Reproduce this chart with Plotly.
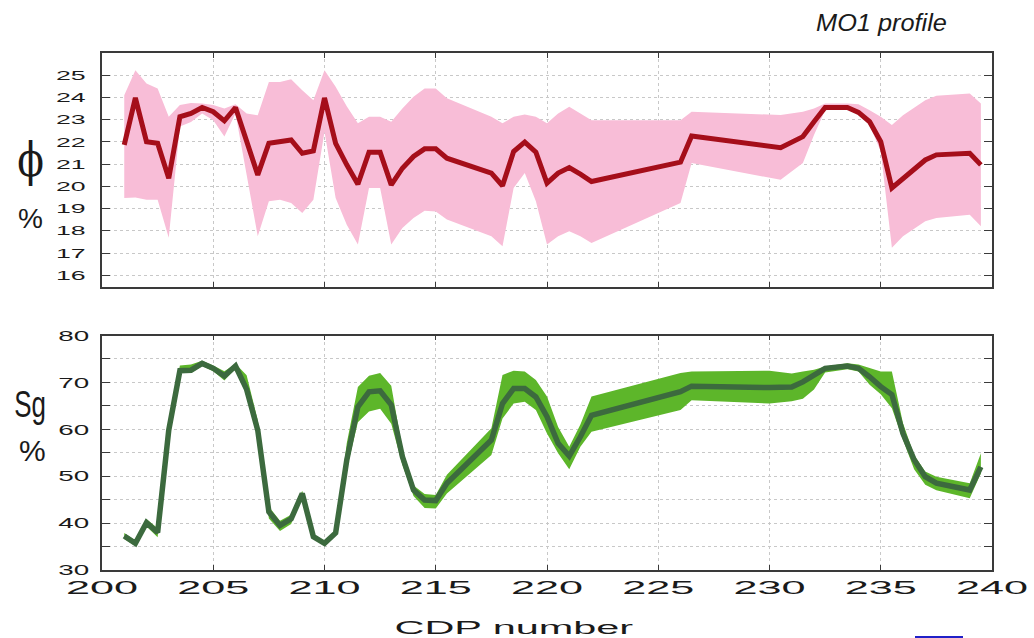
import plotly.graph_objects as go

# ---- porosity (phi) profile: mean and uncertainty envelope ----
cdp_phi = [201.0, 201.5, 202.0, 202.5, 203.0, 203.5, 204.0, 204.5, 205.0, 205.5,
           206.0, 206.5, 207.0, 207.5, 208.0, 208.5, 209.0, 209.5, 210.0, 210.5,
           211.0, 211.5, 212.0, 212.5, 213.0, 213.5, 214.0, 214.5, 215.0, 215.5,
           217.5, 218.0, 218.5, 219.0, 219.5, 220.0, 220.5, 221.0, 221.5, 222.0,
           226.0, 226.5, 230.5, 231.5, 232.0, 232.5, 233.5, 234.0, 234.5, 235.0,
           235.5, 236.0, 237.0, 237.5, 239.0, 239.5]
phi_mean = [21.87, 23.98, 22.01, 21.94, 20.37, 23.13, 23.28, 23.55, 23.36, 22.95,
            23.55, 22.05, 20.52, 21.94, 22.02, 22.09, 21.49, 21.60, 23.98, 21.94,
            20.97, 20.10, 21.54, 21.54, 20.07, 20.82, 21.35, 21.69, 21.69, 21.27,
            20.60, 20.03, 21.57, 21.99, 21.54, 20.15, 20.60, 20.85, 20.55, 20.22,
            21.09, 22.27, 21.74, 22.24, 22.91, 23.55, 23.55, 23.33, 22.91, 22.01,
            19.93, 20.37, 21.19, 21.42, 21.49, 20.97]
phi_hi = [24.10, 25.22, 24.63, 24.40, 23.13, 23.66, 23.75, 23.73, 23.66, 23.50,
          23.70, 23.28, 23.20, 24.70, 24.70, 24.82, 24.33, 23.88, 25.22, 24.48,
          23.60, 22.84, 23.13, 23.13, 22.91, 23.50, 24.03, 24.40, 24.40, 23.96,
          23.13, 22.84, 23.13, 23.24, 23.13, 22.84, 23.28, 23.58, 23.28, 22.98,
          22.98, 23.36, 23.21, 23.36, 23.50, 23.73, 23.73, 23.70, 23.43, 23.13,
          22.76, 23.20, 23.88, 24.08, 24.18, 23.73]
phi_lo = [19.48, 19.50, 19.40, 19.40, 17.69, 22.69, 22.90, 23.28, 22.98, 22.24,
          23.28, 20.52, 17.76, 19.33, 19.40, 19.25, 18.81, 19.40, 22.46, 19.48,
          18.28, 17.39, 19.93, 19.93, 17.39, 18.13, 18.58, 18.91, 18.87, 18.51,
          17.76, 17.31, 19.93, 20.60, 19.33, 17.39, 17.76, 17.98, 17.76, 17.46,
          19.25, 21.05, 20.30, 21.05, 22.31, 23.43, 23.50, 23.28, 22.76, 21.57,
          17.24, 17.76, 18.43, 18.58, 18.73, 18.21]

# ---- gas saturation (Sg) profile: mean and uncertainty envelope ----
cdp_sg = [201.0, 201.5, 202.0, 202.5, 203.0, 203.5, 204.0, 204.5, 205.0, 205.5,
          206.0, 206.5, 207.0, 207.5, 208.0, 208.5, 209.0, 209.5, 210.0, 210.5,
          211.0, 211.5, 212.0, 212.5, 213.0, 213.5, 214.0, 214.5, 215.0, 215.5,
          217.5, 218.0, 218.5, 219.0, 219.5, 220.0, 220.5, 221.0, 221.5, 222.0,
          226.0, 226.5, 230.0, 231.0, 231.5, 232.0, 232.5, 233.5, 234.0, 234.5,
          235.0, 235.5, 236.0, 236.5, 237.0, 237.5, 239.0, 239.5]
sg_mean = [37.25, 35.7, 40.1, 38.0, 59.8, 72.5, 72.6, 74.05, 73.0, 71.35,
           73.5, 68.5, 59.8, 42.4, 39.5, 40.9, 46.3, 37.1, 35.7, 37.9,
           53.4, 64.8, 68.0, 68.2, 65.2, 54.2, 47.05, 44.9, 44.8, 48.5,
           57.7, 65.5, 68.7, 68.7, 66.9, 62.7, 57.0, 54.3, 58.4, 63.0,
           68.0, 69.2, 68.9, 69.0, 70.1, 71.6, 73.0, 73.5, 73.0, 71.2,
           69.1, 67.4, 59.1, 53.5, 49.9, 48.5, 47.05, 52.0]
sg_hi = [37.9, 36.3, 40.9, 38.9, 60.6, 73.6, 73.8, 74.6, 73.6, 72.4,
         74.0, 71.5, 62.0, 43.5, 40.5, 41.8, 46.9, 37.6, 36.2, 38.4,
         57.0, 69.0, 71.4, 72.0, 69.3, 55.8, 48.0, 46.2, 46.0, 50.3,
         60.2, 71.6, 72.5, 72.3, 70.5, 67.0, 60.5, 56.3, 61.0, 67.0,
         72.0, 72.3, 72.5, 71.9, 72.3, 72.7, 73.4, 74.1, 73.8, 73.0,
         72.3, 72.3, 61.3, 54.5, 51.0, 49.9, 48.5, 54.9]
sg_lo = [36.6, 35.1, 39.3, 37.0, 59.0, 72.0, 72.0, 73.5, 72.4, 70.4,
         72.9, 67.6, 59.0, 41.0, 38.3, 39.8, 45.6, 36.6, 35.2, 37.4,
         51.5, 61.5, 63.8, 64.4, 61.2, 52.4, 45.8, 43.2, 43.1, 46.3,
         54.5, 62.3, 65.5, 65.9, 64.1, 59.1, 54.9, 51.5, 56.3, 59.5,
         64.1, 66.2, 65.5, 66.0, 66.5, 68.5, 72.1, 72.8, 72.3, 69.5,
         67.5, 64.5, 57.7, 51.5, 48.2, 47.0, 45.3, 50.6]

# ---- axis ticks ----
cdp_ticks = [200, 205, 210, 215, 220, 225, 230, 235, 240]
phi_ticks = [16, 17, 18, 19, 20, 21, 22, 23, 24, 25]
sg_ticks = [30, 35, 40, 45, 50, 55, 60, 65, 70, 75, 80]
sg_tick_text = ["30", "", "40", "", "50", "", "60", "", "70", "", "80"]

W, H = 1034, 638
PINK, RED = "#f8bdd7", "#a50e1a"
LGREEN, DGREEN = "#5db62a", "#3c6a3e"
FONT = "Liberation Sans, Arial, sans-serif"


def band(x, lo, hi, color, xa, ya):
    return go.Scatter(x=list(x) + list(x)[::-1], y=list(hi) + list(lo)[::-1],
                      fill="toself", fillcolor=color, mode="lines",
                      line=dict(width=0, color=color), hoverinfo="skip",
                      xaxis=xa, yaxis=ya, showlegend=False)


fig = go.Figure()
fig.add_trace(band(cdp_phi, phi_lo, phi_hi, PINK, "x2", "y2"))
fig.add_trace(go.Scatter(x=cdp_phi, y=phi_mean, mode="lines",
                         line=dict(color=RED, width=5),
                         xaxis="x2", yaxis="y2", showlegend=False))
fig.add_trace(band(cdp_sg, sg_lo, sg_hi, LGREEN, "x", "y"))
fig.add_trace(go.Scatter(x=cdp_sg, y=sg_mean, mode="lines",
                         line=dict(color=DGREEN, width=5.5),
                         xaxis="x", yaxis="y", showlegend=False))

x_dom = [102 / W, 992 / W]
top_dom = [1 - 286.5 / H, 1 - 53 / H]
bot_dom = [1 - 570 / H, 1 - 335.5 / H]

frame = dict(showline=True, linecolor="#3a3a3a", linewidth=1.6, mirror="ticks",
             ticks="inside", tickcolor="#3a3a3a", tickwidth=1.2,
             showgrid=True, gridcolor="#c8c8c8", gridwidth=1, griddash="dot",
             zeroline=False, automargin=False)

fig.update_layout(
    width=W, height=H,
    margin=dict(l=0, r=0, t=0, b=0, autoexpand=False),
    paper_bgcolor="white", plot_bgcolor="white",
    showlegend=False,
    xaxis=dict(domain=x_dom, anchor="y", range=[200, 240],
               tickvals=cdp_ticks, ticklen=5, ticklabelstandoff=1,
               tickfont=dict(family=FONT, size=18, color="#1a1a1a"), **frame),
    yaxis=dict(domain=bot_dom, anchor="x", range=[30, 80],
               tickvals=sg_ticks, ticktext=sg_tick_text, ticklen=8,
               ticklabelstandoff=8,
               tickfont=dict(family=FONT, size=15, color="#1a1a1a"), **frame),
    xaxis2=dict(domain=x_dom, anchor="y2", range=[200, 240],
                tickvals=cdp_ticks, ticklen=5, showticklabels=False, **frame),
    yaxis2=dict(domain=top_dom, anchor="x2", range=[15.5, 26],
                tickvals=phi_ticks, ticklen=8, ticklabelstandoff=12,
                tickfont=dict(family=FONT, size=13, color="#1a1a1a"), **frame),
)


def label(text, px, py, size, family=FONT):
    return dict(text=text, x=px / W, y=1 - py / H, xref="paper", yref="paper",
                xanchor="center", yanchor="middle", showarrow=False,
                font=dict(family=family, size=size, color="#1a1a1a"))


fig.update_layout(annotations=[
    label("<i>MO1 profile</i>", 881, 23, 23),
    label("ϕ", 30, 160, 46, "DejaVu Serif, serif"),
    label("%", 30, 218, 28),
    label("Sg", 30, 404, 36),
    label("%", 32, 450, 30),
    label("CDP number", 514, 628, 18),
])

# blue edge of a key that sits just below the figure frame
fig.add_shape(type="rect", xref="paper", yref="paper",
              x0=915 / W, x1=963 / W, y0=0, y1=2 / H,
              fillcolor="#2020c8", line=dict(width=0))

# widen / narrow glyphs the way the printed figure sets them
stretch_js = """
var gd = document.getElementById('{plot_id}');
function stretch(nodes, k) {
  nodes.forEach(function (t) {
    var w = t.getComputedTextLength();
    if (w > 0) {
      t.setAttribute('textLength', (w * k).toFixed(1));
      t.setAttribute('lengthAdjust', 'spacingAndGlyphs');
    }
  });
}
stretch(gd.querySelectorAll('.xtick text'), 2.4);
stretch(gd.querySelectorAll('.ytick text'), 1.85);
stretch(gd.querySelectorAll('.y2tick text'), 2.05);
var ann = gd.querySelectorAll('.annotation-text');
if (ann.length >= 6) {
  stretch([ann[0]], 1.1);
  stretch([ann[1]], 0.85);
  stretch([ann[3]], 0.72);
  stretch([ann[5]], 2.3);
}
"""

fig.write_html("out.html", post_script=stretch_js)
